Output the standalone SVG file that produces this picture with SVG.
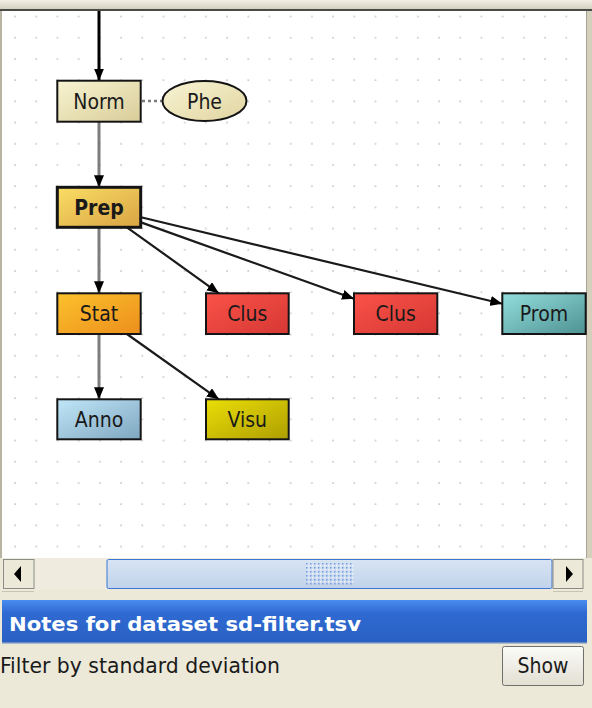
<svg xmlns="http://www.w3.org/2000/svg" width="592" height="708" viewBox="0 0 592 708">
  <style>
    .node rect, .node ellipse { stroke: #141414; stroke-width: 2; }
    .lbl { font-family: "DejaVu Sans Condensed", "DejaVu Sans", sans-serif; font-size: 21px; fill: #1a1a1a; text-anchor: middle; }
    .bold { font-weight: bold; }
    .gray { stroke: #7c7c7c; stroke-width: 3; fill: none; }
    .dark { stroke: #1a1a1a; stroke-width: 2.2; fill: none; }
    .ui { font-family: "DejaVu Sans Condensed", "DejaVu Sans", sans-serif; }
  </style>
  <defs>
    <pattern id="grid" patternUnits="userSpaceOnUse" x="4.4" y="5.9" width="21.2" height="21.2">
      <rect x="10" y="10" width="1.4" height="1.4" fill="#b4b4b4"/>
    </pattern>
    <marker id="arrow" markerUnits="userSpaceOnUse" viewBox="0 0 12 10" refX="12" refY="5" markerWidth="12" markerHeight="10" orient="auto">
      <path d="M0,0 L12,5 L0,10 z" fill="#000"/>
    </marker>
    <linearGradient id="gNorm" x1="0" y1="0" x2="1" y2="1">
      <stop offset="0" stop-color="#f8f4d2"/><stop offset="1" stop-color="#d8cc98"/>
    </linearGradient>
    <linearGradient id="gPhe" x1="0" y1="0" x2="1" y2="1">
      <stop offset="0" stop-color="#f8f4d4"/><stop offset="1" stop-color="#e0d4a0"/>
    </linearGradient>
    <linearGradient id="gPrep" x1="0" y1="0" x2="1" y2="1">
      <stop offset="0" stop-color="#fade64"/><stop offset="1" stop-color="#d9a344"/>
    </linearGradient>
    <linearGradient id="gStat" x1="0" y1="0" x2="1" y2="1">
      <stop offset="0" stop-color="#fcc22c"/><stop offset="1" stop-color="#ec8e1c"/>
    </linearGradient>
    <linearGradient id="gClus" x1="0" y1="0" x2="1" y2="1">
      <stop offset="0" stop-color="#fa5248"/><stop offset="1" stop-color="#d63834"/>
    </linearGradient>
    <linearGradient id="gAnno" x1="0" y1="0" x2="1" y2="1">
      <stop offset="0" stop-color="#c0e6f8"/><stop offset="1" stop-color="#7ea6bf"/>
    </linearGradient>
    <linearGradient id="gVisu" x1="0" y1="0" x2="1" y2="1">
      <stop offset="0" stop-color="#eade08"/><stop offset="1" stop-color="#ae9e00"/>
    </linearGradient>
    <linearGradient id="gProm" x1="0" y1="0" x2="1" y2="1">
      <stop offset="0" stop-color="#94dede"/><stop offset="1" stop-color="#4e9292"/>
    </linearGradient>
    <linearGradient id="gTitle" x1="0" y1="0" x2="0" y2="1">
      <stop offset="0" stop-color="#4a8cf0"/><stop offset="0.3" stop-color="#2f6ad2"/><stop offset="1" stop-color="#2a60c2"/>
    </linearGradient>
    <linearGradient id="gThumb" x1="0" y1="0" x2="0" y2="1">
      <stop offset="0" stop-color="#d8e4f4"/><stop offset="1" stop-color="#c0d2ea"/>
    </linearGradient>
    <linearGradient id="gBtn" x1="0" y1="0" x2="0" y2="1">
      <stop offset="0" stop-color="#fbfbf8"/><stop offset="1" stop-color="#e2dfd2"/>
    </linearGradient>
    <linearGradient id="gTop" x1="0" y1="0" x2="0" y2="1">
      <stop offset="0" stop-color="#f2f0e6"/><stop offset="1" stop-color="#d4d0c0"/>
    </linearGradient>
    <pattern id="grip" patternUnits="userSpaceOnUse" x="306" y="563" width="4" height="4">
      <rect x="0" y="0" width="1.5" height="1.5" fill="#7a9ede"/>
      <rect x="2" y="2" width="1.5" height="1.5" fill="#eef4fc"/>
    </pattern>
  </defs>

  <!-- window background -->
  <rect x="0" y="0" width="592" height="708" fill="#ece9d8"/>
  <rect x="0" y="0" width="592" height="9" fill="url(#gTop)"/>
  <rect x="0" y="9" width="592" height="2" fill="#4a4a46"/>
  <rect x="0" y="11" width="2" height="547" fill="#b8b4a4"/>
  <rect x="586" y="11" width="6" height="547" fill="#d4d0bc"/>
  <rect x="586" y="11" width="1" height="547" fill="#a8a494"/>

  <!-- canvas -->
  <rect x="2" y="11" width="584" height="547" fill="#ffffff"/>
  <rect x="2" y="11" width="584" height="547" fill="url(#grid)"/>

  <!-- connectors -->
  <g id="edges">
    <line x1="99" y1="11" x2="99" y2="80.7" stroke="#000" stroke-width="3" marker-end="url(#arrow)"/>
    <line x1="142" y1="101" x2="162" y2="101" stroke="#7c7c7c" stroke-width="2.5" stroke-dasharray="3,3"/>
    <line class="gray" x1="99" y1="121.7" x2="99" y2="187.3" marker-end="url(#arrow)"/>
    <line class="gray" x1="99" y1="227.3" x2="99" y2="293.3" marker-end="url(#arrow)"/>
    <line class="gray" x1="99" y1="334" x2="99" y2="399.3" marker-end="url(#arrow)"/>
    <line class="dark" x1="126.9" y1="227.3" x2="218.9" y2="293.3" marker-end="url(#arrow)"/>
    <line class="dark" x1="141" y1="222.4" x2="354" y2="298.8" marker-end="url(#arrow)"/>
    <line class="dark" x1="141" y1="217.3" x2="502.3" y2="303.7" marker-end="url(#arrow)"/>
    <line class="dark" x1="126.9" y1="334" x2="218.9" y2="399.3" marker-end="url(#arrow)"/>
  </g>

  <!-- nodes -->
  <g id="norm" class="node">
    <rect x="57.3" y="80.7" width="83.4" height="41" fill="url(#gNorm)"/>
    <text class="lbl" x="99" y="109">Norm</text>
  </g>
  <g id="phe" class="node">
    <ellipse cx="204.5" cy="101" rx="42" ry="20" fill="url(#gPhe)"/>
    <text class="lbl" x="204.5" y="109">Phe</text>
  </g>
  <g id="prep" class="node">
    <rect x="57.3" y="187.3" width="83.4" height="40" fill="url(#gPrep)" style="stroke-width:3"/>
    <text class="lbl bold" x="99" y="215">Prep</text>
  </g>
  <g id="stat" class="node">
    <rect x="57.3" y="293.3" width="83.4" height="40.7" fill="url(#gStat)"/>
    <text class="lbl" x="99" y="321">Stat</text>
  </g>
  <g id="clus1" class="node">
    <rect x="206" y="293.3" width="82.7" height="40.7" fill="url(#gClus)"/>
    <text class="lbl" x="247.3" y="321">Clus</text>
  </g>
  <g id="clus2" class="node">
    <rect x="354" y="293.3" width="83.3" height="40.7" fill="url(#gClus)"/>
    <text class="lbl" x="395.7" y="321">Clus</text>
  </g>
  <g id="prom" class="node">
    <rect x="502.3" y="293.3" width="83.4" height="40.7" fill="url(#gProm)"/>
    <text class="lbl" x="544" y="321">Prom</text>
  </g>
  <g id="anno" class="node">
    <rect x="57.3" y="399.3" width="83.4" height="40" fill="url(#gAnno)"/>
    <text class="lbl" x="99" y="427">Anno</text>
  </g>
  <g id="visu" class="node">
    <rect x="206" y="399.3" width="82.7" height="40" fill="url(#gVisu)"/>
    <text class="lbl" x="247.3" y="427">Visu</text>
  </g>

  <!-- horizontal scrollbar -->
  <g id="scrollbar">
    <rect x="2" y="558" width="581" height="32" fill="#efecdf"/>
    <rect x="3.5" y="559.5" width="30.5" height="29" fill="#ece9d8" stroke="#8c8c86" stroke-width="1"/>
    <path d="M14,574 L21,566 L21,582 z" fill="#000"/>
    <rect x="107" y="559.5" width="445" height="29" rx="1.5" fill="url(#gThumb)" stroke="#3d76d2" stroke-width="1"/>
    <rect x="306" y="563" width="48" height="22" fill="url(#grip)"/>
    <rect x="553" y="559.5" width="30" height="29" fill="#ece9d8" stroke="#8c8c86" stroke-width="1"/>
    <path d="M573,574 L566,566 L566,582 z" fill="#000"/>
    <rect x="2" y="591" width="32" height="1" fill="#c8c4b4"/>
    <rect x="553" y="591" width="30" height="1" fill="#c8c4b4"/>
  </g>

  <!-- notes panel -->
  <g id="notes">
    <rect x="2" y="600" width="585" height="43" fill="url(#gTitle)"/>
    <rect x="2" y="642" width="585" height="1.5" fill="#6c8cc4"/>
    <text class="ui" x="9" y="631" font-size="20" font-weight="bold" fill="#ffffff" textLength="352" lengthAdjust="spacingAndGlyphs">Notes for dataset sd-filter.tsv</text>
    <text class="ui" x="0" y="673" font-size="21" fill="#1a1a1a" textLength="280" lengthAdjust="spacingAndGlyphs">Filter by standard deviation</text>
    <rect x="502.5" y="646.5" width="81" height="39" rx="2" fill="url(#gBtn)" stroke="#6f6f6c" stroke-width="1"/>
    <text class="ui" x="543" y="673" font-size="21" fill="#1a1a1a" text-anchor="middle">Show</text>
  </g>
</svg>
